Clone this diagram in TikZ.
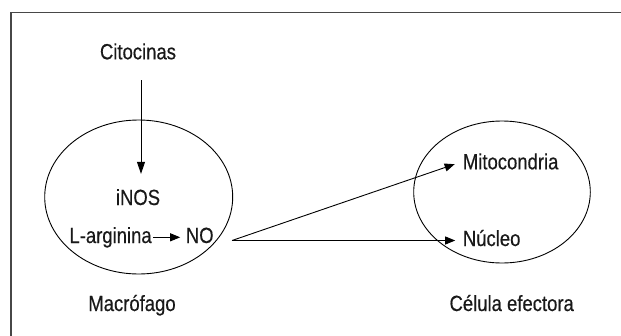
\documentclass[tikz,border=0pt]{standalone}
\usepackage{fontspec}
\setmainfont{Liberation Sans}[FakeStretch=0.84,FakeBold=0.4]
\usetikzlibrary{arrows.meta,shapes.geometric}
\begin{document}
\begin{tikzpicture}[x=1pt,y=-1pt,
  lbl/.style={inner sep=0pt,text=black!90,font=\fontsize{22}{26}\selectfont},
  cellshape/.style={draw=black,line width=0.9pt,ellipse,inner sep=0pt},
  arr/.style={draw=black,line width=0.9pt,-{Triangle[length=10pt,width=8pt]}},
  frameline/.style={draw=black!72,line width=1.5pt}]
  \useasboundingbox (0,0) rectangle (621,335);
  % open frame (top and left sides)
  \draw[frameline] (11,336) |- (622,12.5);

  % cells
  \node[cellshape,minimum width=188pt,minimum height=154pt] (macro) at (138.7,197) {};
  \node[cellshape,minimum width=176.6pt,minimum height=142pt] (cell) at (502,192) {};

  % labels
  \node[lbl,anchor=base] (cit) at (138,59.3) {Citocinas};
  \node[lbl,anchor=base] (inos) at (138,205) {iNOS};
  \node[lbl,anchor=base west] (larg) at (69.3,243) {L-arginina};
  \node[lbl,anchor=base west] (no) at (185.7,243) {NO};
  \node[lbl,anchor=base] (mac) at (132,311) {Macrófago};
  \node[lbl,anchor=base west] (mito) at (462.7,169.3) {Mitocondria};
  \node[lbl,anchor=base west] (nuc) at (462.7,246) {Núcleo};
  \node[lbl,anchor=base] (cel) at (511.7,311) {Célula efectora};

  \coordinate (src) at (232,240.5);

  % connectors
  \draw[arr,-{Triangle[length=12pt,width=8pt]},shorten <=20.7pt,shorten >=15pt]
    ([xshift=3pt]cit.south) -- ([xshift=3pt]inos.north);
  \draw[arr,shorten <=1.5pt,shorten >=5.5pt] (larg.east) -- (larg.east -| no.west);
  \draw[arr,shorten >=8.5pt] (src) -- (mito.west);
  \draw[arr,shorten >=7.5pt] (src) -- (src -| nuc.west);
\end{tikzpicture}
\end{document}
